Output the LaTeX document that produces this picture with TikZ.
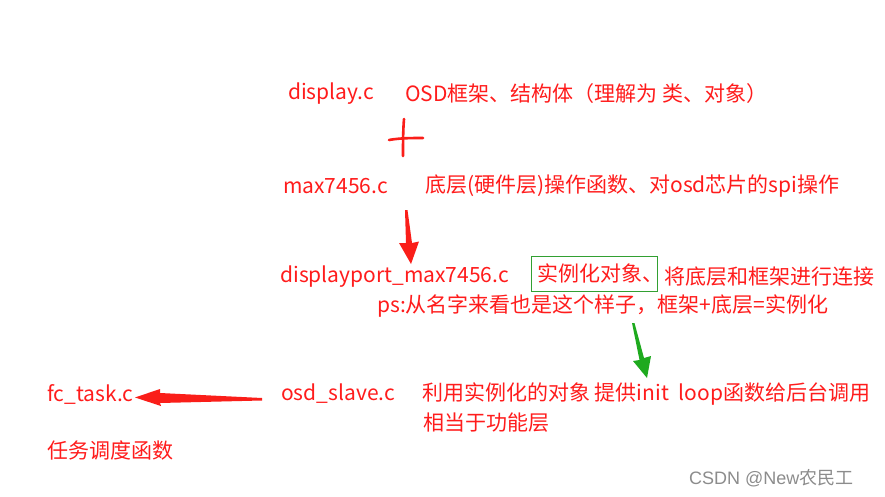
\documentclass[tikz,border=0pt]{standalone}
\usepackage{fontspec}
\setmainfont{Noto Sans CJK SC}
\newfontfamily\wmfont{Liberation Sans}
\definecolor{txtred}{RGB}{255,28,28}
\definecolor{arrred}{RGB}{250,30,25}
\definecolor{boxgreen}{RGB}{50,160,50}
\definecolor{arrgreen}{RGB}{30,170,30}
\begin{document}
\begin{tikzpicture}[x=1pt,y=-1pt,
  txt/.style={text=txtred, inner sep=0pt, anchor=west, font=\fontsize{21}{24}\selectfont},
  greenbox/.style={draw=boxgreen, line width=1pt, text=txtred, inner xsep=0pt, inner ysep=0pt,
    minimum width=126pt, minimum height=35pt, anchor=west, font=\fontsize{21}{24}\selectfont},
  pen/.style={draw=arrred, line width=2.6pt, line cap=round}]
\useasboundingbox (0,0) rectangle (885,497);
\fill[white] (0,0) rectangle (885,497);
% row 1
\node[txt] (display) at (288,94) {display.c};
\node[txt] (displaydesc) at (405,94) {OSD框架、结构体（理解为 类、对象）};
% plus sign
\draw[pen] (389,140) .. controls (400,138) and (412,138) .. (423,138);
\draw[pen] (404,119) .. controls (403,130) and (403,145) .. (403,156);
% row 2
\node[txt] (max) at (283,186) {max7456.c};
\node[txt] (maxdesc) at (425,186) {底层(硬件层)操作函数、对osd芯片的spi操作};
% red down arrow
\fill[arrred] (405,210) -- (407.5,210) -- (412,243) -- (419,241.5) -- (411,264) -- (399,243) -- (406,243) -- cycle;
% row 3
\node[txt] (dport) at (280,277) {displayport\_max7456.c};
\node[greenbox] (inst) at (531,273.5) {\makebox[126pt][l]{\hspace{6pt}实例化对象、}};
\node[txt] (instdesc) at (664,277) {将底层和框架进行连接};
\node[txt] (ps) at (377,306) {ps:从名字来看也是这个样子，框架+底层=实例化};
% green arrow
\fill[arrgreen] (632,323) -- (634.5,323) -- (644,358) -- (651,356) -- (647,378) -- (633,361) -- (639.5,360) -- cycle;
% row 4
\node[txt] (fctask) at (47,394) {fc\_task.c};
\node[txt] (osd) at (281,394) {osd\_slave.c};
\node[txt] (osddesc) at (422,394) {利用实例化的对象 提供init\ \ loop函数给后台调用};
\node[txt] (osddesc2) at (423,423) {相当于功能层};
\node[txt] (fcdesc) at (47,450) {任务调度函数};
% left red arrow
\fill[arrred] (262,398) -- (262,400.5) -- (160,403) -- (161,406) -- (135,397.5) -- (160,389) -- (160,393) -- cycle;
% watermark
\node[inner sep=0pt, anchor=west, text=black!45, font=\fontsize{18}{20}\selectfont] (wm) at (689,478) {{\wmfont CSDN @New}农民工};
\end{tikzpicture}
\end{document}
